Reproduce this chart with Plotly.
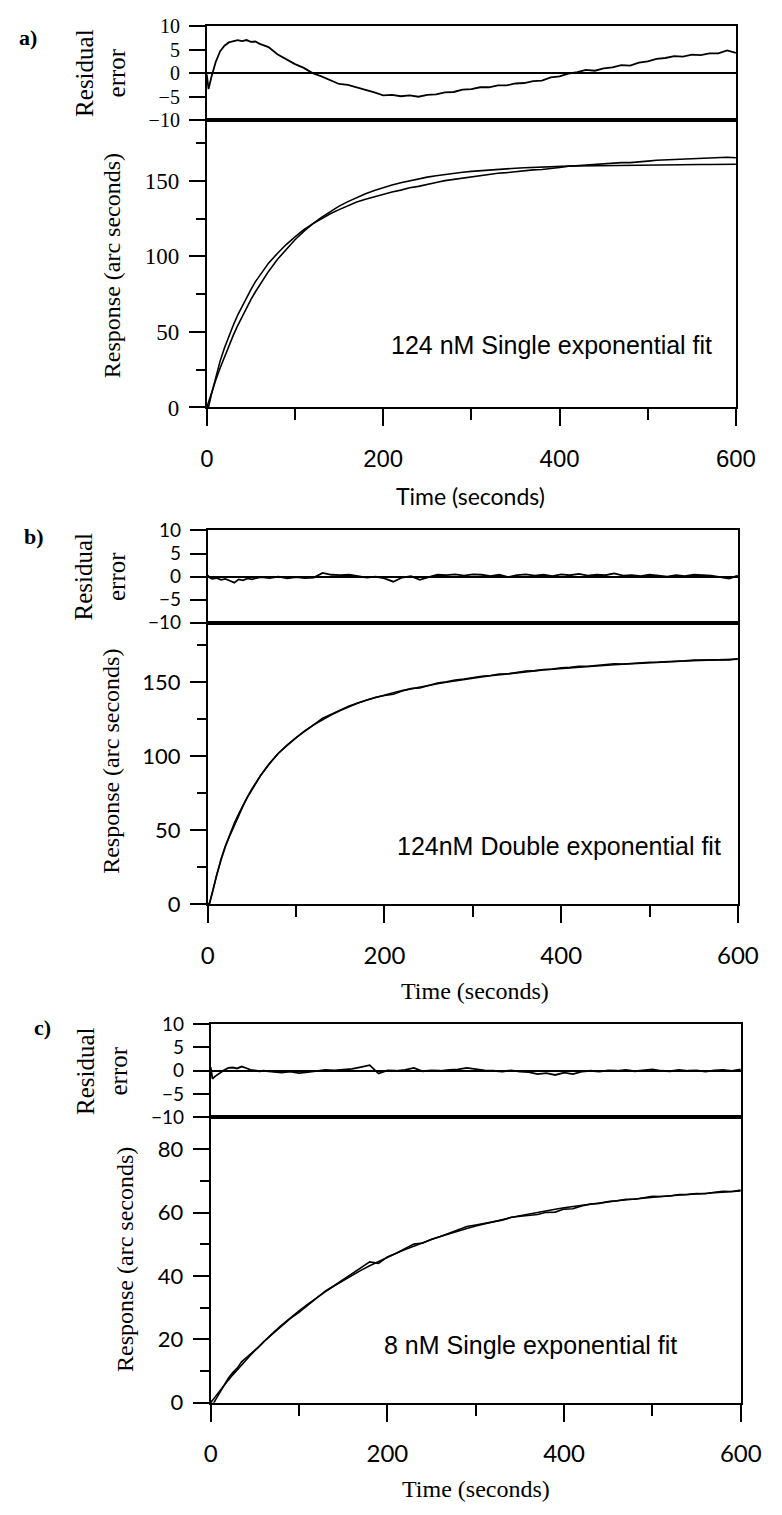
import plotly.graph_objects as go

W, H = 782, 1515          # browser window
OFF = 8                   # default body margin of the html page
FW, FH = W - OFF, H - OFF  # figure size so that it fills the window exactly

# ---------------- data ----------------
TIME = [0, 2, 5, 10, 15, 20, 25, 30, 35, 40, 45, 50, 55, 60,
        70, 80, 90, 100, 110, 120, 130, 140, 150, 160, 170, 180, 190, 200,
        210, 220, 230, 240, 250, 260, 270, 280, 290, 300, 310, 320, 330, 340,
        350, 360, 370, 380, 390, 400, 410, 420, 430, 440, 450, 460, 470, 480,
        490, 500, 510, 520, 530, 540, 550, 560, 570, 580, 590, 600]

# a) 124 nM, single exponential fit
FIT_A = [0.0, 3.7, 9.1, 17.8, 25.9, 33.6, 40.8, 47.7, 54.1, 60.2, 65.9, 71.3, 76.4, 81.2,
         90.0, 97.9, 104.8, 111.0, 116.5, 121.5, 125.8, 129.7, 133.2, 136.2, 139.0, 141.4, 143.6, 145.5,
         147.2, 148.7, 150.1, 151.3, 152.4, 153.3, 154.2, 154.9, 155.6, 156.2, 156.7, 157.2, 157.6, 158.0,
         158.3, 158.6, 158.9, 159.1, 159.3, 159.5, 159.7, 159.8, 159.9, 160.1, 160.2, 160.3, 160.3, 160.4,
         160.5, 160.5, 160.6, 160.6, 160.7, 160.7, 160.7, 160.8, 160.8, 160.8, 160.8, 160.9]
RESID_A = [-0.3, -3.4, -1.0, 2.3, 4.6, 5.8, 6.5, 6.7, 7.0, 6.8, 7.0, 6.6, 6.7, 6.2,
           5.5, 4.0, 3.0, 1.9, 1.1, 0.0, -0.7, -1.5, -2.3, -2.5, -3.0, -3.6, -4.1, -4.7,
           -4.6, -4.9, -4.7, -5.0, -4.6, -4.5, -4.1, -4.0, -3.5, -3.4, -3.0, -3.0, -2.6, -2.6,
           -2.2, -2.1, -1.7, -1.6, -0.9, -0.7, -0.1, 0.2, 0.7, 0.5, 1.0, 1.2, 1.7, 1.6,
           2.2, 2.5, 3.0, 3.2, 3.6, 3.5, 3.9, 3.8, 4.2, 4.2, 4.8, 4.3]

# b) 124 nM, double exponential fit
FIT_B = [0.0, 0.6, 7.6, 20.0, 30.4, 39.4, 47.2, 54.5, 61.0, 67.1, 72.6, 77.8, 82.6, 87.1,
         95.2, 101.9, 107.6, 112.6, 117.1, 121.1, 124.7, 127.9, 130.8, 133.4, 135.8, 137.9, 139.7, 141.3,
         142.8, 144.2, 145.5, 146.7, 147.8, 148.9, 149.9, 150.9, 151.8, 152.7, 153.5, 154.3, 155.0, 155.7,
         156.3, 156.9, 157.5, 158.1, 158.6, 159.1, 159.6, 160.1, 160.5, 160.9, 161.3, 161.7, 162.0, 162.4,
         162.7, 163.0, 163.3, 163.6, 163.9, 164.2, 164.4, 164.7, 164.9, 165.1, 165.3, 165.5]
RESID_B = [0.3, -0.2, -0.5, -0.3, -0.7, -0.5, -0.9, -1.3, -0.6, -0.8, -0.4, -0.6, -0.3, -0.1,
           -0.3, 0.0, -0.4, -0.1, -0.3, -0.2, 0.8, 0.4, 0.3, 0.4, 0.1, -0.2, 0.0, -0.4,
           -1.1, -0.2, 0.1, -0.7, -0.1, 0.4, 0.3, 0.5, 0.2, 0.5, 0.4, 0.1, 0.4, -0.1,
           0.3, 0.5, 0.2, 0.4, 0.1, 0.5, 0.3, 0.6, 0.2, 0.4, 0.3, 0.7, 0.2, 0.3,
           0.1, 0.4, 0.2, 0.0, 0.3, 0.1, 0.4, 0.3, 0.2, -0.1, -0.4, 0.2]

# c) 8 nM, single exponential fit
FIT_C = [0.0, 0.75, 1.85, 3.66, 5.41, 7.12, 8.78, 10.40, 11.97, 13.50, 14.99, 16.44, 17.86, 19.23,
         21.88, 24.38, 26.75, 29.00, 31.13, 33.15, 35.06, 36.87, 38.58, 40.21, 41.75, 43.21, 44.59, 45.90,
         47.14, 48.32, 49.43, 50.48, 51.49, 52.43, 53.33, 54.18, 54.98, 55.75, 56.47, 57.16, 57.80, 58.42,
         59.00, 59.55, 60.08, 60.57, 61.04, 61.49, 61.90, 62.31, 62.68, 63.04, 63.38, 63.70, 64.01, 64.29,
         64.57, 64.83, 65.07, 65.31, 65.52, 65.73, 65.93, 66.12, 66.30, 66.47, 66.63, 66.78]
RESID_C = [0.8, -1.7, -1.2, -0.5, 0.1, 0.6, 0.7, 0.5, 0.9, 0.6, 0.2, 0.1, -0.1, 0.0,
           -0.2, -0.4, -0.2, -0.5, -0.3, -0.1, 0.2, 0.1, 0.3, 0.4, 0.8, 1.2, -0.6, 0.1,
           0.0, 0.2, 0.6, -0.1, 0.1, 0.0, 0.2, 0.3, 0.6, 0.3, 0.1, 0.0, -0.2, 0.1,
           -0.2, -0.3, -0.7, -0.5, -0.9, -0.4, -0.7, -0.2, 0.0, -0.2, 0.1, 0.0, 0.2, -0.1,
           0.1, 0.3, 0.0, -0.1, 0.2, 0.0, 0.1, -0.2, 0.1, 0.2, 0.0, 0.3]

RESID_TICKS = [-10, -5, 0, 5, 10]
LABELS = ["a)", "b)", "c)"]
FIT_TEXT = ["124 nM Single exponential fit", "124nM Double exponential fit", "8 nM Single exponential fit"]
X_TITLE = "Time (seconds)"
Y_TITLE = "Response (arc seconds)"
R_TITLE = "Residual<br>error"

SERIF = "Liberation Serif, Times New Roman, serif"
SANS = "Liberation Sans, Arial, sans-serif"
NARROW = "Liberation Sans Narrow, Liberation Sans, Arial, sans-serif"
GEO = "Lato, Noto Sans, sans-serif"

# ---------------- layout geometry (page pixels) ----------------
panels = [
    dict(fit=FIT_A, res=RESID_A, x0=207, x1=756, rt=14, rb=110, mb=402, ymax=190, dt=50, mdt=25,
         yfont=SERIF, yfs=23, rfs=20, xfont=NARROW, xfs=24, tfont=GEO, tfs=23,
         lab=(22, 26), rtitle=(97, 62), ytitle=(109, 258), xtitle=(481, 492),
         txt=(207, 41)),
    dict(fit=FIT_B, res=RESID_B, x0=208, x1=758, rt=527, rb=621, mb=907, ymax=190, dt=50, mdt=25,
         yfont=GEO, yfs=22, rfs=19, xfont=GEO, xfs=24, tfont=SERIF, tfs=24,
         lab=(28, 533), rtitle=(96, 574), ytitle=(108, 762), xtitle=(485, 995),
         txt=(212, 39.5)),
    dict(fit=FIT_C, res=RESID_C, x0=211, x1=761, rt=1029, rb=1124, mb=1414, ymax=90, dt=20, mdt=10,
         yfont=GEO, yfs=22, rfs=19, xfont=GEO, xfs=24, tfont=SERIF, tfs=24,
         lab=(37, 1033), rtitle=(99, 1077), ytitle=(122, 1268), xtitle=(486, 1502),
         txt=(194, 18.3)),
]


def fx(p):
    return (p - OFF) / FW


def fy(p):
    return 1 - (p - OFF) / FH


fig = go.Figure()
layout = {}
annotations = []

for i, p in enumerate(panels):
    nr, nm = 2 * i + 1, 2 * i + 2
    xr = "x" if nr == 1 else f"x{nr}"
    yr = "y" if nr == 1 else f"y{nr}"
    xm, ym = f"x{nm}", f"y{nm}"
    data = [f + r for f, r in zip(p["fit"], p["res"])]

    fig.add_trace(go.Scatter(x=TIME, y=p["res"], mode="lines", line=dict(color="black", width=1.8),
                             xaxis=xr, yaxis=yr, showlegend=False))
    fig.add_trace(go.Scatter(x=TIME, y=p["fit"], mode="lines", line=dict(color="black", width=1.6),
                             xaxis=xm, yaxis=ym, showlegend=False))
    fig.add_trace(go.Scatter(x=TIME, y=data, mode="lines", line=dict(color="black", width=1.6),
                             xaxis=xm, yaxis=ym, showlegend=False))

    common_line = dict(showline=True, linecolor="black", linewidth=1.8, mirror=True,
                       showgrid=False, zeroline=False)

    layout["xaxis" if nr == 1 else f"xaxis{nr}"] = dict(
        domain=[fx(p["x0"]), fx(p["x1"])], anchor=yr, range=[0, 600],
        showticklabels=False, ticks="", **common_line)
    layout["yaxis" if nr == 1 else f"yaxis{nr}"] = dict(
        domain=[fy(p["rb"]), fy(p["rt"])], anchor=xr, range=[-10, 10],
        tickvals=RESID_TICKS, ticks="outside", ticklen=16, tickwidth=2, tickcolor="black",
        tickfont=dict(family=p["yfont"], size=p["rfs"], color="black"),
        ticklabelstandoff=5,
        showline=True, linecolor="black", linewidth=1.8, mirror=True, showgrid=False,
        zeroline=True, zerolinecolor="black", zerolinewidth=1.6)

    layout[f"xaxis{nm}"] = dict(
        domain=[fx(p["x0"]), fx(p["x1"])], anchor=ym, range=[0, 600],
        tick0=0, dtick=200, ticks="outside", ticklen=17, tickwidth=2, tickcolor="black",
        minor=dict(dtick=100, ticks="outside", ticklen=11, tickwidth=2, tickcolor="black"),
        tickfont=dict(family=p["xfont"], size=p["xfs"], color="black"),
        ticklabelstandoff=12, **common_line)
    layout[f"yaxis{nm}"] = dict(
        domain=[fy(p["mb"]), fy(p["rb"])], anchor=xm, range=[0, p["ymax"]],
        tick0=0, dtick=p["dt"], ticks="outside", ticklen=16, tickwidth=2, tickcolor="black",
        minor=dict(dtick=p["mdt"], ticks="outside", ticklen=9, tickwidth=2, tickcolor="black"),
        tickfont=dict(family=p["yfont"], size=p["yfs"], color="black"),
        ticklabelstandoff=5, **common_line)

    base = dict(xref="paper", yref="paper", showarrow=False, xanchor="center", yanchor="middle")
    annotations.append(dict(text=f"<b>{LABELS[i]}</b>", x=fx(p["lab"][0]), y=fy(p["lab"][1]),
                            font=dict(family=SERIF, size=22, color="black"), **base))
    annotations.append(dict(text=R_TITLE, x=fx(p["rtitle"][0]), y=fy(p["rtitle"][1]), textangle=-90,
                            font=dict(family=SERIF, size=25, color="black"), **base))
    annotations.append(dict(text=Y_TITLE, x=fx(p["ytitle"][0]), y=fy(p["ytitle"][1]), textangle=-90,
                            font=dict(family=SERIF, size=24, color="black"), **base))
    annotations.append(dict(text=X_TITLE, x=fx(p["xtitle"][0]), y=fy(p["xtitle"][1]),
                            font=dict(family=p["tfont"], size=p["tfs"], color="black"), **base))
    annotations.append(dict(text=FIT_TEXT[i], x=p["txt"][0], y=p["txt"][1],
                            xref=xm, yref=ym, xanchor="left", yanchor="middle", showarrow=False,
                            font=dict(family=SANS, size=25, color="black")))

fig.update_layout(
    width=FW, height=FH, autosize=False,
    margin=dict(l=0, r=0, t=0, b=0),
    paper_bgcolor="white", plot_bgcolor="white",
    annotations=annotations, showlegend=False,
    **layout,
)

fig.write_html("out.html")
